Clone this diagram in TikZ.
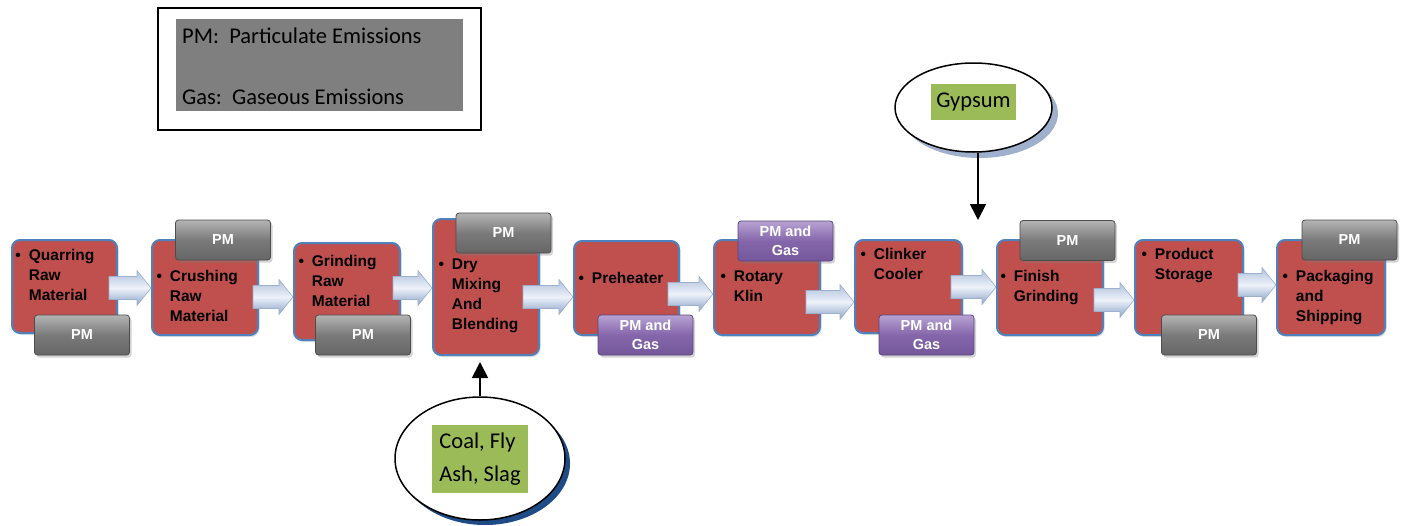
\documentclass[tikz,border=0pt]{standalone}
\usepackage{fontspec}
\setmainfont{Liberation Sans}
\newfontfamily\calib{Carlito}
\usetikzlibrary{shapes.geometric,shadows,arrows.meta,calc}
\definecolor{boxred}{HTML}{C0504D}
\definecolor{boxblue}{HTML}{4F81BD}
\definecolor{pmtop}{HTML}{B4B4B4}
\definecolor{pmmid}{HTML}{7A7A7A}
\definecolor{pmbot}{HTML}{666666}
\definecolor{pmedge}{HTML}{4D4D4D}
\definecolor{putop}{HTML}{B7A3D3}
\definecolor{pumid}{HTML}{8566AB}
\definecolor{pubot}{HTML}{74579A}
\definecolor{puedge}{HTML}{5C4580}
\definecolor{leggray}{HTML}{7F7F7F}
\definecolor{greenbox}{HTML}{9BBB59}
\definecolor{artop}{HTML}{AFC0DC}
\definecolor{armid}{HTML}{EEF2F9}
\definecolor{arbot}{HTML}{8AA2C8}
\definecolor{aredge}{HTML}{9DB0D0}
\definecolor{shdark}{HTML}{1F4C87}
\definecolor{shlight}{HTML}{9FB0CC}
\newcommand\bul[1]{\textbullet\hspace{8pt}\begin{tabular}[t]{@{}l@{}}#1\end{tabular}}
\newcommand\barrow[4]{%
  \path[blockarrow] let \p1=(#1.east), \p2=(#2.west) in
    (\x1-#4pt,-#3pt+11.5pt) -- (\x2-14pt,-#3pt+11.5pt) -- (\x2-14pt,-#3pt+17.5pt)
    -- (\x2,-#3pt) -- (\x2-14pt,-#3pt-17.5pt) -- (\x2-14pt,-#3pt-11.5pt)
    -- (\x1-#4pt,-#3pt-11.5pt) -- cycle;}
\begin{document}
\begin{tikzpicture}[x=1pt,y=-1pt,
  redbox/.style={draw=boxblue, line width=2pt, fill=boxred, rounded corners=8pt,
    inner sep=0pt, minimum width=106pt, minimum height=95pt,
    drop shadow={shadow xshift=1.5pt, shadow yshift=-2pt, opacity=0.25}},
  btext/.style={anchor=base west, inner sep=0pt, font=\fontsize{15.5}{20}\selectfont\bfseries},
  emis/.style={rounded corners=3pt, line width=0.8pt, inner sep=0pt,
    minimum width=95pt, minimum height=40pt, align=center, text=white,
    font=\fontsize{14.5}{19}\selectfont\bfseries,
    drop shadow={shadow xshift=2pt, shadow yshift=-2.5pt, opacity=0.35}},
  pmbox/.style={emis, draw=pmedge, top color=pmtop, bottom color=pmbot, middle color=pmmid},
  pgbox/.style={emis, draw=puedge, top color=putop, bottom color=pubot, middle color=pumid},
  blockarrow/.style={top color=artop, bottom color=arbot, middle color=armid,
    draw=aredge, line width=0.6pt},
  legtext/.style={anchor=base west, inner sep=0pt, font=\calib\fontsize{22.5}{27}\selectfont},
  bubble/.style={ellipse, draw=black, line width=1.5pt, fill=white, inner sep=0pt},
  green/.style={fill=greenbox, inner sep=0pt, font=\calib\fontsize{22.5}{33}\selectfont, align=left},
  inarrow/.style={line width=1.8pt, -{Triangle[width=16pt,length=16pt]}}
]
\useasboundingbox (0,0) rectangle (1405,525);

% legend
\node[draw=black, line width=2pt, minimum width=323pt, minimum height=122pt, inner sep=0pt] (legend) at (319.5,69) {};
\node[fill=leggray, minimum width=287pt, minimum height=92pt, inner sep=0pt] (legin) at (319.5,65) {};
\node[legtext] (l1) at (182,43) {PM:\ \ Particulate Emissions};
\node[legtext] (l2) at (182,104) {Gas:\ \ Gaseous Emissions};

% process boxes
\node[redbox, minimum width=105pt, minimum height=93pt] (q) at (64.5,286.5) {};
\node[redbox] (c) at (205,287.5) {};
\node[redbox, minimum height=97pt] (g) at (347,291.5) {};
\node[redbox, minimum height=136pt] (d) at (486,287) {};
\node[redbox, minimum width=105pt, minimum height=94pt] (p) at (626.5,288) {};
\node[redbox] (r) at (767,287.5) {};
\node[redbox, minimum width=107pt, minimum height=93pt] (cl) at (908.5,286.5) {};
\node[redbox] (f) at (1050,287.5) {};
\node[redbox, minimum width=108pt] (ps) at (1189,287.5) {};
\node[redbox, minimum width=108pt] (pk) at (1331,287.5) {};

% texts
\node[btext] (tq) at (15.3,260) {\bul{Quarring\\Raw\\Material}};
\node[btext] (tc) at (156.3,281) {\bul{Crushing\\Raw\\Material}};
\node[btext] (tg) at (298.3,266) {\bul{Grinding\\Raw\\Material}};
\node[btext] (td) at (438.3,269) {\bul{Dry\\Mixing\\And\\Blending}};
\node[btext] (tp) at (578.3,283) {\bul{Preheater}};
\node[btext] (tr) at (720.3,281) {\bul{Rotary\\Klin}};
\node[btext] (tcl) at (860.3,259) {\bul{Clinker\\Cooler}};
\node[btext] (tf) at (1000.3,281) {\bul{Finish\\Grinding}};
\node[btext] (tps) at (1141.3,259) {\bul{Product\\Storage}};
\node[btext] (tpk) at (1282.3,281) {\bul{Packaging\\and\\Shipping}};

% block arrows
\barrow{q}{c}{288}{9}
\barrow{c}{g}{297}{6}
\barrow{g}{d}{288}{8}
\barrow{d}{p}{297}{17}
\barrow{p}{r}{294}{12}
\barrow{r}{cl}{302}{15}
\barrow{cl}{f}{287}{12}
\barrow{f}{ps}{300}{10}
\barrow{ps}{pk}{285}{6}

% emission boxes
\node[pmbox] (qe) at (82,335) {PM};
\node[pmbox] (ce) at (223,240) {PM};
\node[pmbox] (ge) at (363,335) {PM};
\node[pmbox] (de) at (503.5,233) {PM};
\node[pgbox] (pe) at (645.5,335) {PM and\\Gas};
\node[pgbox] (re) at (785.5,241) {PM and\\Gas};
\node[pgbox] (cle) at (926.5,335) {PM and\\Gas};
\node[pmbox] (fe) at (1067.5,240.5) {PM};
\node[pmbox] (pse) at (1209,335) {PM};
\node[pmbox] (pke) at (1349.5,240) {PM};

% inputs
\node[bubble, minimum width=170pt, minimum height=123pt,
  drop shadow={fill=shdark, opacity=1, shadow xshift=5pt, shadow yshift=-5pt}] (coal) at (480,458.5) {};
\node[green, minimum width=96pt, minimum height=68pt] (coalt) at (480,459) {Coal, Fly\\Ash, Slag};
\coordinate (ctip) at (480,362);
\draw[inarrow] (coal.north) -- (ctip);

\node[bubble, minimum width=157pt, minimum height=89pt,
  drop shadow={fill=shlight, opacity=1, shadow xshift=6pt, shadow yshift=-6pt}] (gyp) at (973.5,107.5) {};
\node[green, minimum width=85pt, minimum height=36pt] (gypt) at (973.5,102) {Gypsum};
\coordinate (gtip) at (978,220);
\draw[inarrow] (gtip |- gyp.south) -- (gtip);
\end{tikzpicture}
\end{document}
